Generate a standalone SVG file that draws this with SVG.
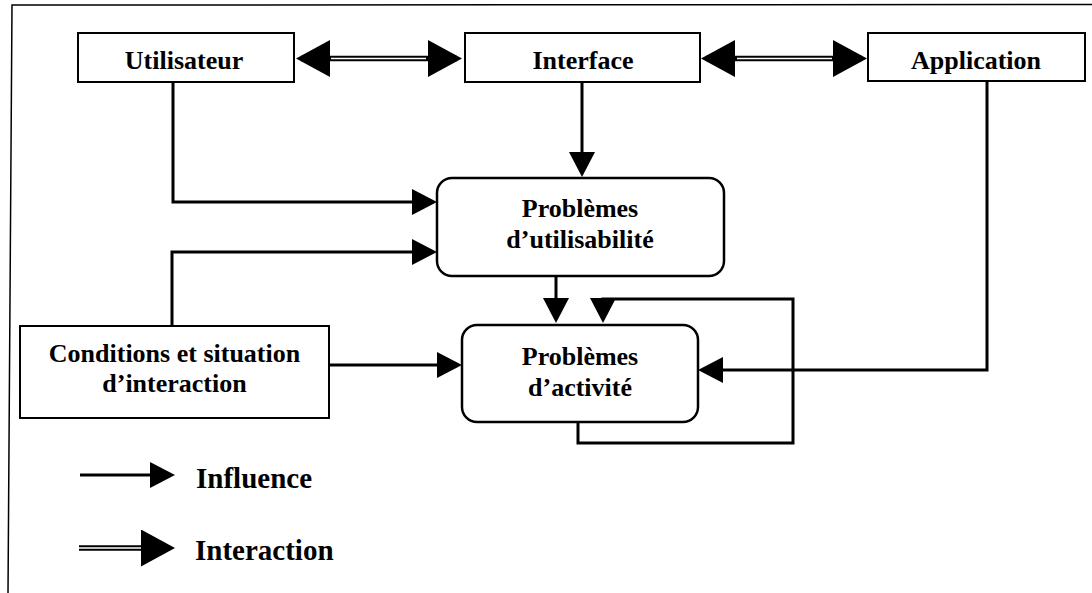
<svg xmlns="http://www.w3.org/2000/svg" width="1092" height="593" viewBox="0 0 1092 593">
<style>
  .box { fill: #fff; stroke: #000; stroke-width: 2; }
  .rbox { fill: #fff; stroke: #000; stroke-width: 2.5; }
  .lbl { font-family: "Liberation Serif", "Times New Roman", serif; font-weight: bold; font-size: 26px; fill: #000; text-anchor: middle; }
  .leg { font-family: "Liberation Serif", "Times New Roman", serif; font-weight: bold; font-size: 29px; fill: #000; }
  .inf { fill: none; stroke: #000; stroke-width: 3; marker-end: url(#ah); }
  .dbl { fill: none; stroke: #000; stroke-width: 5.5; }
  .gap { fill: none; stroke: #fff; stroke-width: 1.6; }
</style>
<defs>
  <marker id="ah" markerUnits="userSpaceOnUse" viewBox="0 0 25 26" markerWidth="25" markerHeight="26" refX="20" refY="13" orient="auto">
    <path d="M0,0 L25,13 L0,26 Z" fill="#000"/>
  </marker>
  <marker id="ai" markerUnits="userSpaceOnUse" viewBox="0 0 34 37" markerWidth="34" markerHeight="37" refX="29" refY="18.5" orient="auto-start-reverse">
    <path d="M0,0 L34,18.5 L0,37 Z" fill="#000"/>
  </marker>
</defs>
<rect x="0" y="0" width="1092" height="593" fill="#fff"/>
<g id="frame" fill="none" stroke="#000" stroke-width="1.5">
  <path d="M1092,4.5 L12,5 L8,593"/>
</g>
<g id="connectors">
  <path class="dbl" d="M301,58.5 H457" marker-start="url(#ai)" marker-end="url(#ai)"/>
  <path class="gap" d="M331,58.5 H426"/>
  <path class="dbl" d="M706,58.5 H862" marker-start="url(#ai)" marker-end="url(#ai)"/>
  <path class="gap" d="M737,58.5 H832"/>
  <path class="inf" d="M173,82 V202 H432"/>
  <path class="inf" d="M172,326 V252 H432"/>
  <path class="inf" d="M582,82 V172"/>
  <path class="inf" d="M556,276 V318"/>
  <path class="inf" d="M578,422 V443 H793 V299 H603 V318"/>
  <path class="inf" d="M987,81 V370 H703"/>
  <path class="inf" d="M329,365 H457"/>
</g>
<g id="utilisateur">
  <rect class="box" x="78" y="33" width="216" height="49"/>
  <text class="lbl" x="184" y="69">Utilisateur</text>
</g>
<g id="interface">
  <rect class="box" x="465" y="33" width="235" height="49"/>
  <text class="lbl" x="583" y="69">Interface</text>
</g>
<g id="application">
  <rect class="box" x="868" y="33" width="217" height="48"/>
  <text class="lbl" x="976" y="69">Application</text>
</g>
<g id="utilisabilite">
  <rect class="rbox" x="437" y="178" width="287" height="98" rx="15" ry="15"/>
  <text class="lbl" x="580" y="217">Problèmes</text>
  <text class="lbl" x="580" y="248">d’utilisabilité</text>
</g>
<g id="activite">
  <rect class="rbox" x="462" y="325" width="236" height="97" rx="15" ry="15"/>
  <text class="lbl" x="580" y="365">Problèmes</text>
  <text class="lbl" x="580" y="396">d’activité</text>
</g>
<g id="conditions">
  <rect class="box" x="20" y="326" width="309" height="92"/>
  <text class="lbl" x="174.5" y="362">Conditions et situation</text>
  <text class="lbl" x="174.5" y="392">d’interaction</text>
</g>
<g id="legend">
  <path class="inf" d="M80,475 H170"/>
  <text class="leg" x="196" y="488">Influence</text>
  <path class="dbl" d="M79,548 H170" marker-end="url(#ai)"/>
  <path class="gap" d="M79,548 H141"/>
  <text class="leg" x="195" y="560">Interaction</text>
</g>
</svg>
